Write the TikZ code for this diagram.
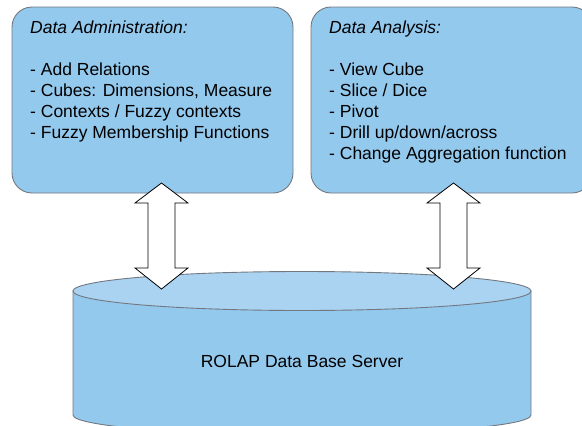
\documentclass[tikz,border=0pt]{standalone}
\usepackage{fontspec}
\setmainfont{Liberation Sans}
\definecolor{panelblue}{HTML}{94C9EE}
\definecolor{lidblue}{HTML}{AAD3F2}
\definecolor{edgegray}{HTML}{737880}
\tikzset{
  panel/.style={draw=edgegray, line width=0.9pt, fill=panelblue, rounded corners=20pt},
  paneltext/.style={anchor=north west, align=left, inner sep=0pt, font=\fontsize{17.5}{21}\selectfont},
  dbbody/.style={draw=edgegray, line width=0.9pt, fill=panelblue},
  dblid/.style={draw=edgegray, line width=0.9pt, fill=lidblue},
  flowarrow/.style={draw=black, line width=0.8pt, fill=white, line join=miter},
  updown/.pic={
    \path[flowarrow] (0,0) -- (26.5,20) -- (13.5,20) -- (13.5,85) -- (26.5,85)
      -- (0,106) -- (-26.5,85) -- (-13.5,85) -- (-13.5,20) -- (-26.5,20) -- cycle;
  }
}
\begin{document}
\begin{tikzpicture}[x=1pt,y=-1pt]
  \useasboundingbox (0,0) rectangle (582,426);

  % upper panels
  \draw[panel] (12,7) rectangle (293,193);
  \draw[panel] (311,7) rectangle (592,193);

  \node[paneltext] (admintext) at (30,20.5)
    {\textit{Data Administration:}\\[21pt]
     - Add Relations\\
     - Cubes: Dimensions, Measure\\
     - Contexts / Fuzzy contexts\\
     - Fuzzy Membership Functions};

  \node[paneltext] (analysistext) at (329,20.5)
    {\textit{Data Analysis:}\\[21pt]
     - View Cube\\
     - Slice / Dice\\
     - Pivot\\
     - Drill up/down/across\\
     - Change Aggregation function};

  % database cylinder
  \path[dbbody] (73,291) -- (73,415) arc[start angle=180, end angle=360, x radius=229, y radius=-19.5]
    -- (531,291) -- cycle;
  \path[dblid] (302,291) ellipse[x radius=229, y radius=19.5];
  \node[inner sep=0pt, font=\fontsize{17.5}{21}\selectfont] (db) at (302,361) {ROLAP Data Base Server};

  % two-way links between panels and server
  \pic at (161.5,183) {updown};
  \pic at (453.5,183) {updown};
\end{tikzpicture}
\end{document}
